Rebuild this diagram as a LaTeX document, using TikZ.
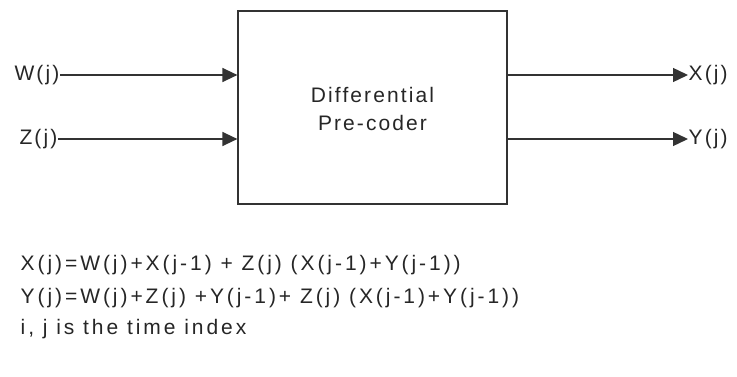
\documentclass[tikz,border=0pt]{standalone}
\usepackage{fontspec}
\setmainfont{Liberation Sans}
\newfontfamily\sigfont{Liberation Sans}[LetterSpace=10]
\newfontfamily\eqfont{Liberation Sans}[LetterSpace=14]
\usetikzlibrary{arrows.meta}
\usetikzlibrary{positioning}

\begin{document}
\begin{tikzpicture}[x=1pt,y=-1pt,>={Triangle[length=15pt,width=14pt]},
    line width=1.4pt,draw=black!80,
    box node/.style={draw,line width=1.2pt,minimum width=269pt,minimum height=193pt,inner sep=0pt},
    sig node/.style={inner sep=0pt,text=black!85,font=\sigfont\fontsize{21}{28}\selectfont},
    eq node/.style={inner sep=0pt,text=black!85,anchor=west,font=\eqfont\fontsize{21}{28}\selectfont}]
  \useasboundingbox (0,0) rectangle (737,377);

  % the pre-coder block
  \node[box node] (pc) at (372.5,107.5) {};
  \node[sig node,align=center] (name) at (372.5,109) {Differential\\Pre-coder};

  % inputs and outputs
  \node[sig node,anchor=east] (w) at (60,75) {W(j)};
  \node[sig node,anchor=east] (z) at (58,139) {Z(j)};
  \node[sig node,anchor=west] (x) at (688,75) {X(j)};
  \node[sig node,anchor=west] (y) at (688,139) {Y(j)};

  \draw[->] (w) -- (w -| pc.west);
  \draw[->] (z) -- (z -| pc.west);
  \draw[->] (pc.east |- x) -- (x);
  \draw[->] (pc.east |- y) -- (y);

  % the equations under the block
  \node[eq node] (eqx) at (20,265) {X(j)=W(j)+X(j-1) + Z(j) (X(j-1)+Y(j-1))};
  \node[eq node] (eqy) at (20,298) {Y(j)=W(j)+Z(j) +Y(j-1)+ Z(j) (X(j-1)+Y(j-1))};
  \node[eq node] (idx) at (20,329) {i, j is the time index};
\end{tikzpicture}
\end{document}
